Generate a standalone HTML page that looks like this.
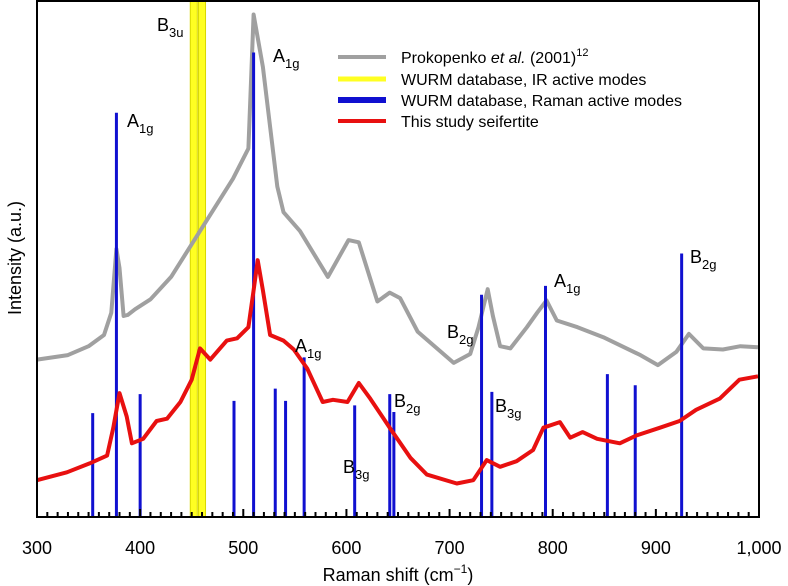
<!DOCTYPE html>
<html><head><meta charset="utf-8"><style>
body{margin:0;background:#fff;}
svg{display:block;font-family:"Liberation Sans",Arial,sans-serif;}
</style></head><body>
<svg id="chart" width="788" height="586" viewBox="0 0 788 586" xmlns="http://www.w3.org/2000/svg">
<g id="marks"></g>
<g id="frame"></g>
</svg>
<script>
// data
const grayX=[300,330,350,365,372,377,380,384,388,395,410,430,458,490,505,510,519,533,539,555,582,602,612,630,642,652,669,704,720,728,737,742,749,759,775,785,794,804,824,849,885,902,920,932,946,965,982,999];
const grayY=[141,145,153,163,183,240,223,180,181,186,195,215,256,303,330,450,403,296,273,256,215,248,246,193,201,196,166,138,146,170,204,180,153,151,170,183,194,176,170,161,145,136,148,164,151,150,153,152];
const redX=[300,329,351,368,374,380,387,392,403,416,426,439,450,458,468,484,494,505,510,514,519,526,539,549,562,577,587,601,612,623,642,662,678,707,723,736,749,765,781,791,807,817,829,843,865,881,904,923,939,962,981,999];
const redY=[33,40,48,55,80,111,90,66,70,86,88,103,123,151,141,158,160,170,203,230,203,163,158,150,133,103,105,103,120,106,80,53,38,30,33,51,45,50,60,80,85,71,76,70,66,73,80,86,96,106,123,126];
const ramanModes=[354,377,400,491,510,531,541,559,608,642,646,731,741,793,853,880,925];
const ramanHeights=[93,362,110,104,416,115,104,143,100,110,94,199,112,207,128,118,236];
const irModes=[452,460];
const xTicks=[300,400,500,600,700,800,900,1000];
const xTickLabels=["300","400","500","600","700","800","900","1,000"];
const peakLabels=[["B","3u",157,31],["A","1g",127,127],["A","1g",273,62],["A","1g",295,352],["B","3g",343,473],["B","2g",394,407],["B","2g",447,338],["B","3g",495,412],["A","1g",554,287],["B","2g",690,263]];

const L=37,R=759,T=0,B=517,K=517/463;
const sx=v=>L+(v-300)*(R-L)/700;
const sy=v=>B-v*K;
const NS="http://www.w3.org/2000/svg";
function mk(tag,attrs,parent){const e=document.createElementNS(NS,tag);for(const k in attrs)e.setAttribute(k,attrs[k]);parent.appendChild(e);return e;}
const marks=document.getElementById('marks');
const frame=document.getElementById('frame');

irModes.forEach(m=>{
  const r=mk('rect',{x:sx(m)-3.5,y:T,width:7,height:B-T,fill:'#ffff22',stroke:'#d8d800','stroke-width':1},marks);
  
  
});
function line(xs,ys,color,name){
  const d=xs.map((x,i)=>(i?'L':'M')+sx(x).toFixed(1)+','+sy(ys[i]).toFixed(1)).join(' ');
  const p=mk('path',{d:d,fill:'none',stroke:color,'stroke-width':4,'stroke-linejoin':'round'},marks);
  
  
}
line(grayX,grayY,'#a0a0a0','prokopenko-line');
ramanModes.forEach((m,i)=>{
  const r=mk('line',{x1:sx(m),x2:sx(m),y1:B,y2:sy(ramanHeights[i]),stroke:'#1010d0','stroke-width':3},marks);
  
  
});
line(redX,redY,'#e81010','this-study-line');

peakLabels.forEach(l=>{
  const t=mk('text',{x:l[2],y:l[3],'font-size':18,fill:'#000'},marks);
  
  
  t.innerHTML=l[0]+'<tspan font-size="13" dy="6">'+l[1]+'</tspan>';
});

const fr=mk('rect',{x:L,y:T+1,width:R-L,height:B-T-1,fill:'none',stroke:'#000','stroke-width':2},frame);


for(let v=300;v<=1000;v+=10){
  const major=v%100===0;
  mk('line',{x1:sx(v),x2:sx(v),y1:B,y2:B-(major?8:5),stroke:'#000','stroke-width':2},frame);
}
xTicks.forEach((v,i)=>{
  const t=mk('text',{x:sx(v),y:554,'font-size':18,'text-anchor':'middle'},frame);
  
  
  t.textContent=xTickLabels[i];
});
</script>
<svg style="position:absolute;left:0;top:0" width="788" height="586" font-family="Liberation Sans, Arial, sans-serif">
<text x="398" y="581" font-size="18" text-anchor="middle">Raman shift (cm<tspan font-size="12" dy="-8">−1</tspan><tspan dy="8">)</tspan></text>
<text transform="translate(21,258) rotate(-90)" font-size="18" text-anchor="middle">Intensity (a.u.)</text>
<g font-size="16">
<line x1="338" x2="386" y1="57" y2="57" stroke="#a0a0a0" stroke-width="4"/>
<line x1="338" x2="386" y1="79" y2="79" stroke="#ffff22" stroke-width="5"/>
<line x1="338" x2="386" y1="100" y2="100" stroke="#1010d0" stroke-width="6"/>
<line x1="338" x2="386" y1="121" y2="121" stroke="#e81010" stroke-width="4"/>
<text x="401" y="63">Prokopenko <tspan font-style="italic">et al.</tspan> (2001)<tspan font-size="11" dy="-7">12</tspan></text>
<text x="401" y="85">WURM database, IR active modes</text>
<text x="401" y="106">WURM database, Raman active modes</text>
<text x="401" y="127">This study seifertite</text>
</g>
</svg>
</body></html>
